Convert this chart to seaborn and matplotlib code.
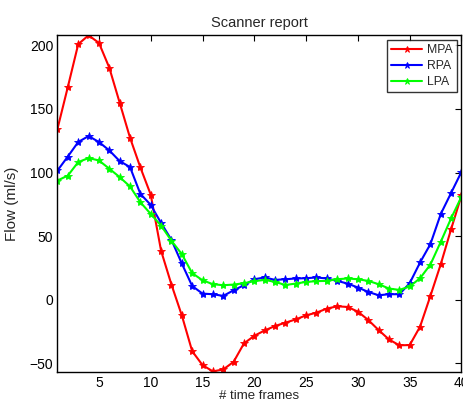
import matplotlib
matplotlib.use("Agg")
import matplotlib.pyplot as plt
import seaborn as sns
import pandas as pd

frames = list(range(1, 41))
mpa = [134.5, 167.4, 201, 208, 202, 182.5, 155, 127.4, 104, 82.6,
       38.4, 11.8, -12.4, -40.6, -51.6, -56.5, -55, -49, -34.5, -28.5,
       -24.3, -20.8, -18.2, -15.6, -12.4, -10.3, -7.1, -5.3, -5.8, -9.5,
       -16.1, -24, -31.4, -36, -35.8, -21.3, 2.9, 27.9, 55.5, 82]
rpa = [101.6, 112.6, 124, 128.7, 124, 117.4, 109, 104.3, 83.2, 74.5,
       60.3, 47, 28.4, 10.7, 4.7, 4.2, 2.9, 7.3, 11.3, 16,
       17.4, 15.5, 16, 16.6, 16.8, 17.4, 16.6, 14.7, 12.6, 9.5,
       6, 3.4, 4.2, 4.2, 12.9, 29.2, 43.7, 67.4, 84, 100.6]
lpa = [93.7, 97.6, 108.2, 111.4, 109.5, 103, 96.4, 89, 76.6, 67.4,
       58.2, 46.3, 35.8, 20.8, 15.2, 12.1, 11.3, 11.8, 12.9, 14.5,
       15.5, 13.9, 11.5, 12.6, 13.9, 14.5, 14.7, 16, 16.6, 16,
       14.7, 12.1, 8.7, 7.6, 10.3, 16.8, 27.6, 45.5, 64, 81]
series_names = ["MPA", "RPA", "LPA"]
colors = ["#ff0000", "#0000ff", "#00ff00"]
xticks = [5, 10, 15, 20, 25, 30, 35, 40]
yticks = [-50, 0, 50, 100, 150, 200]

sns.set_style("white")
plt.rcParams['font.family'] = ['Liberation Sans', 'DejaVu Sans']
plt.rcParams['font.size'] = 10

fig = plt.figure(figsize=(4.64, 4.03), dpi=100)
ax = fig.add_axes([57.5 / 464, 1 - 372 / 403, (461.5 - 57.5) / 464, (372 - 35.3) / 403])

for name, vals, c in zip(series_names, [mpa, rpa, lpa], colors):
    df = pd.DataFrame({"frame": frames, "flow": vals})
    sns.lineplot(data=df, x="frame", y="flow", ax=ax, color=c, marker="*",
                 markersize=6, markeredgewidth=0.6, markeredgecolor=c,
                 linewidth=1.5, label=name)

ax.set_xlim(1, 40)
ax.set_ylim(-57, 208)
ax.set_xticks(xticks)
ax.set_yticks(yticks)
ax.tick_params(direction="in", top=True, right=True, length=4, width=0.8,
               labelsize=10, colors="black", pad=3)
for s in ax.spines.values():
    s.set_color("black")
    s.set_linewidth(1.0)
ax.set_xlabel("# time frames", fontsize=9.5, labelpad=0)
ax.set_ylabel("Flow (ml/s)", fontsize=11, labelpad=8)
ax.set_title("Scanner report", fontsize=10.5, pad=6)

leg = ax.legend(loc="upper right", fontsize=8.8, frameon=True, fancybox=False,
                borderaxespad=0.4, handlelength=2.6, handletextpad=0.4,
                borderpad=0.3, labelspacing=0.35, markerscale=0.8)
leg.get_frame().set_edgecolor("black")
leg.get_frame().set_linewidth(1.0)

fig.savefig("out.png", dpi=100)
